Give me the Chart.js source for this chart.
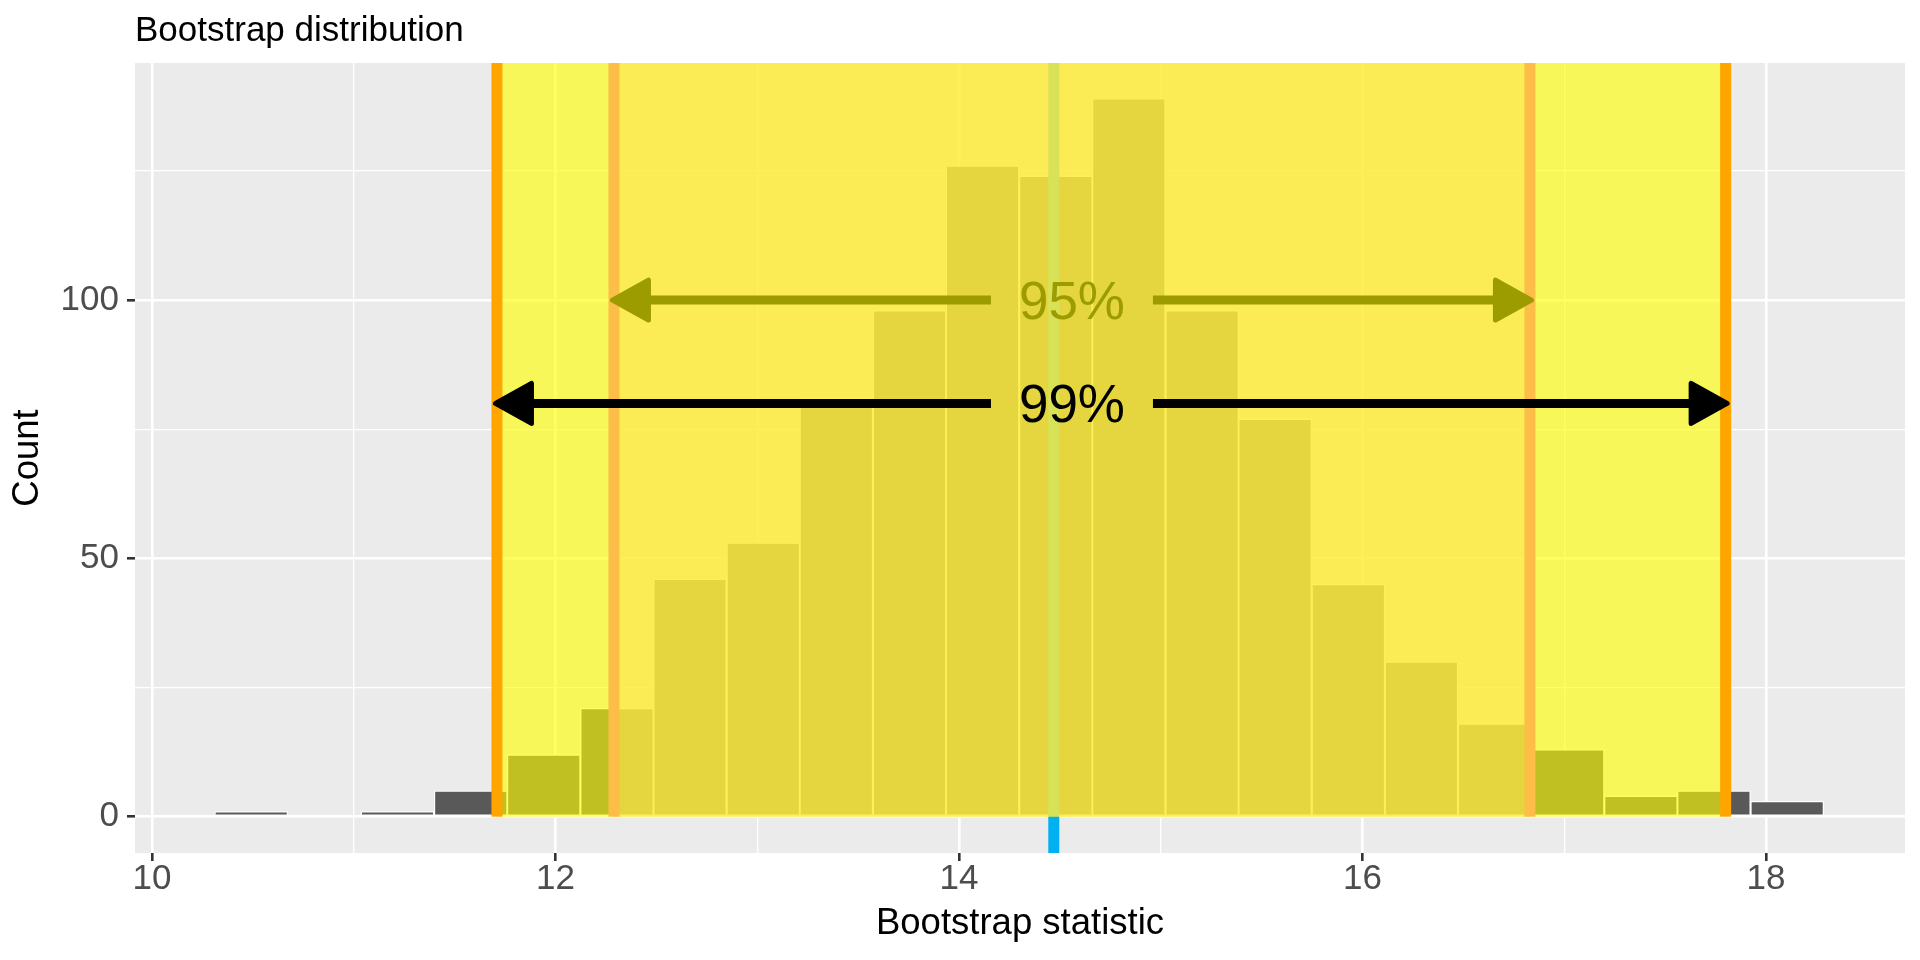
<!DOCTYPE html>
<html>
<head>
<meta charset="utf-8">
<title>Bootstrap distribution</title>
<script src="https://cdn.jsdelivr.net/npm/chart.js@4.4.1/dist/chart.umd.min.js"></script>
<style>
  html, body { margin: 0; padding: 0; background: #ffffff; }
  #wrap { width: 1920px; height: 960px; }
</style>
</head>
<body>
<div id="wrap"><canvas id="bootChart" width="1920" height="960"></canvas></div>
<script>
// histogram: bin centres and counts
var binCenters = [10.492, 10.855, 11.217, 11.580, 11.942, 12.305, 12.667, 13.030, 13.392, 13.755, 14.117,
                  14.480, 14.842, 15.205, 15.567, 15.930, 16.292, 16.655, 17.017, 17.380, 17.742, 18.105];
var counts = [1, 0, 1, 5, 12, 21, 46, 53, 81, 98, 126, 124, 139, 98, 77, 45, 30, 18, 13, 4, 5, 3];

// percentile intervals and the point estimate
var ci95 = [12.29, 16.83];
var ci99 = [11.71, 17.80];
var pointEstimate = 14.47;

// interval arrows: height (in counts) and label
var arrowLevels = [100, 80];
var arrowLabels = ['95%', '99%'];
var labelX = 14.56;

// axes
var xTicks = [10, 12, 14, 16, 18];
var xMinor = [11, 13, 15, 17];
var yTicks = [0, 50, 100];
var yMinor = [25, 75, 125];

var arrowColors = ['#9C9C00', '#000000'];

Chart.defaults.font.family = '"Liberation Sans", Arial, Helvetica, sans-serif';

function isMajor(list, ctx) {
    return ctx.tick && list.indexOf(ctx.tick.value) >= 0;
}

function arrowHead(c, tipX, yp, dir) {
    // dir = 1 -> head points left, dir = -1 -> head points right
    c.beginPath();
    c.moveTo(tipX - dir * 1.5, yp);
    c.lineTo(tipX + dir * 34.5, yp - 20);
    c.lineTo(tipX + dir * 34.5, yp + 20);
    c.closePath();
    c.lineJoin = 'round';
    c.lineWidth = 5;
    c.fill();
    c.stroke();
}

var annotations = {
    id: 'annotations',
    beforeDraw: function (chart) {
        var c = chart.ctx, a = chart.chartArea;
        c.save();
        c.fillStyle = '#ffffff';
        c.fillRect(0, 0, chart.width, chart.height);
        c.fillStyle = '#EBEBEB';
        c.fillRect(a.left, a.top, a.right - a.left, a.bottom - a.top);
        c.restore();
    },
    afterDatasetsDraw: function (chart) {
        var c = chart.ctx, a = chart.chartArea;
        var xs = chart.scales.x, ys = chart.scales.y;
        var y0 = ys.getPixelForValue(0);
        c.save();
        c.beginPath();
        c.rect(a.left, a.top, a.right - a.left, a.bottom - a.top);
        c.clip();

        // point estimate, full height
        var pe = xs.getPixelForValue(pointEstimate);
        c.fillStyle = '#00B0F0';
        c.fillRect(pe - 5.5, a.top, 11, a.bottom - a.top);

        // shaded intervals
        var l99 = xs.getPixelForValue(ci99[0]), r99 = xs.getPixelForValue(ci99[1]);
        var l95 = xs.getPixelForValue(ci95[0]), r95 = xs.getPixelForValue(ci95[1]);
        c.fillStyle = 'rgba(255,255,0,0.62)';
        c.fillRect(l99, a.top, r99 - l99, y0 - a.top);
        c.fillStyle = 'rgba(254,227,84,0.6)';
        c.fillRect(l95, a.top, r95 - l95, y0 - a.top);

        // interval bounds
        c.fillStyle = '#FDBE48';
        c.fillRect(l95 - 5.5, a.top, 11, y0 - a.top);
        c.fillRect(r95 - 5.5, a.top, 11, y0 - a.top);
        c.fillStyle = '#FFA500';
        c.fillRect(l99 - 5.5, a.top, 11, y0 - a.top);
        c.fillRect(r99 - 5.5, a.top, 11, y0 - a.top);

        // arrows with labels
        var lx = xs.getPixelForValue(labelX);
        var bounds = [[l95, r95], [l99, r99]];
        for (var i = 0; i < arrowLevels.length; i++) {
            var yp = ys.getPixelForValue(arrowLevels[i]);
            var xa = bounds[i][0], xb = bounds[i][1];
            c.strokeStyle = arrowColors[i];
            c.fillStyle = arrowColors[i];
            c.lineCap = 'butt';
            c.lineWidth = 9;
            c.beginPath();
            c.moveTo(xa + 20, yp);
            c.lineTo(lx - 81, yp);
            c.moveTo(lx + 81, yp);
            c.lineTo(xb - 20, yp);
            c.stroke();
            arrowHead(c, xa, yp, 1);
            arrowHead(c, xb, yp, -1);

            c.font = '53px "Liberation Sans", Arial, sans-serif';
            c.textAlign = 'center';
            c.textBaseline = 'middle';
            c.fillText(arrowLabels[i], lx, yp + 4);
        }
        c.restore();
    }
};

var ctx = document.getElementById('bootChart').getContext('2d');
var myChart = new Chart(ctx, {
    type: 'bar',
    data: {
        datasets: [{
            label: 'Count',
            data: binCenters.map(function (b, i) { return { x: b, y: counts[i] }; }),
            backgroundColor: '#595959',
            borderColor: '#FFFFFF',
            borderWidth: 1.3,
            borderSkipped: false,
            barPercentage: 1,
            categoryPercentage: 1,
            grouped: false
        }]
    },
    options: {
        responsive: false,
        animation: false,
        devicePixelRatio: 1,
        layout: { padding: { left: 0, right: 15, top: 0, bottom: 0 } },
        plugins: {
            legend: { display: false },
            tooltip: { enabled: false },
            title: {
                display: true,
                text: 'Bootstrap distribution',
                align: 'start',
                fullSize: false,
                color: '#000000',
                font: { size: 35, weight: 'normal', lineHeight: 1.2 },
                padding: { top: 10, bottom: 11 }
            }
        },
        scales: {
            x: {
                type: 'linear',
                min: 9.916,
                max: 18.689,
                offset: false,
                afterBuildTicks: function (s) {
                    s.ticks = xTicks.concat(xMinor).sort(function (p, q) { return p - q; })
                        .map(function (v) { return { value: v }; });
                },
                afterFit: function (s) { s.height = 107; },
                ticks: {
                    autoSkip: false,
                    maxRotation: 0,
                    padding: 1,
                    color: '#4D4D4D',
                    font: { size: 35, lineHeight: 1 },
                    callback: function (v) { return xTicks.indexOf(v) >= 0 ? String(v) : ''; }
                },
                grid: {
                    offset: false,
                    color: '#FFFFFF',
                    lineWidth: function (ctx) { return isMajor(xTicks, ctx) ? 2.6 : 1.3; },
                    drawTicks: true,
                    tickLength: 8,
                    tickWidth: 2.6,
                    tickColor: function (ctx) { return isMajor(xTicks, ctx) ? '#333333' : 'rgba(0,0,0,0)'; }
                },
                border: { display: false },
                title: {
                    display: true,
                    text: 'Bootstrap statistic',
                    color: '#000000',
                    font: { size: 36.5 },
                    padding: { top: 0, bottom: 14.6 }
                }
            },
            y: {
                type: 'linear',
                min: -7.03,
                max: 145.9,
                afterBuildTicks: function (s) {
                    s.ticks = yTicks.concat(yMinor).sort(function (p, q) { return p - q; })
                        .map(function (v) { return { value: v }; });
                },
                afterFit: function (s) { s.width = 135; },
                ticks: {
                    autoSkip: false,
                    padding: 8,
                    color: '#4D4D4D',
                    font: { size: 35, lineHeight: 1 },
                    callback: function (v) { return yTicks.indexOf(v) >= 0 ? String(v) : ''; }
                },
                grid: {
                    color: '#FFFFFF',
                    lineWidth: function (ctx) { return isMajor(yTicks, ctx) ? 2.6 : 1.3; },
                    drawTicks: true,
                    tickLength: 8,
                    tickWidth: 2.6,
                    tickColor: function (ctx) { return isMajor(yTicks, ctx) ? '#333333' : 'rgba(0,0,0,0)'; }
                },
                border: { display: false },
                title: {
                    display: true,
                    text: 'Count',
                    color: '#000000',
                    font: { size: 36.5 },
                    padding: { top: 6, bottom: 0 }
                }
            }
        }
    },
    plugins: [annotations]
});
</script>
</body>
</html>
